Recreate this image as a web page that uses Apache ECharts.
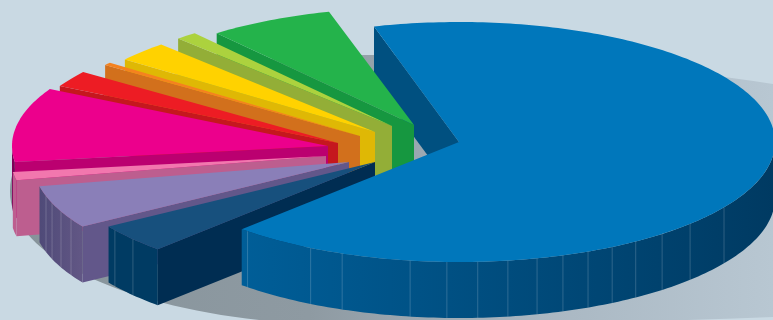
<!DOCTYPE html>
<html>
<head>
<meta charset="utf-8">
<script src="https://cdn.jsdelivr.net/npm/echarts@6/dist/echarts.min.js"></script>
<style>html,body{margin:0;padding:0;background:#c9d9e3}#chart{width:773px;height:320px}</style>
</head>
<body>
<div id="chart"></div>
<script>
// Shares of the whole, clockwise from the large blue sector.
const sliceNames = ['Blue', 'Navy', 'Purple', 'Pink', 'Magenta', 'Red', 'Orange', 'Yellow', 'Lime', 'Green'];
const sliceShares = [66.4, 3.9, 5.8, 1.1, 10.0, 2.2, 0.4, 2.7, 1.1, 6.4];

// Exploded apex of each sector on the canvas, and its vertical reach.
const apexX = [459, 375, 349, 326, 328, 338, 360, 375, 392, 414];
const apexY = [142, 162, 162, 156, 146, 143, 136, 132, 126, 125];
const sliceReachY = [1, 1, 1, 1, 1, 1, 1, 0.99, 0.99, 0.98];

// Colours: top face, radial wall, rim wall left end, rim wall right end.
const topColors = ['#0077bb', '#17507d', '#8a7fb8', '#f277ae', '#ec008c', '#ed1c24', '#f5821f', '#ffd200', '#acd23e', '#24b34b'];
const wallColors = ['#005080', '#002d52', '#62578a', '#bd5e8f', '#bb0070', '#c5171e', '#d2701c', '#dfb805', '#93ae37', '#169740'];
const rimLeftColors = ['#005e98', '#003b63', '#4f4a78', '#bd5e8f', '#7f0058', '#c5171e', '#d2701c', '#dfb805', '#93ae37', '#169740'];
const rimRightColors = ['#003a62', '#003b63', '#625785', '#bd5e8f', '#7f0058', '#c5171e', '#d2701c', '#dfb805', '#93ae37', '#169740'];

// Seams of the faceted rim, as clockwise angles in degrees.
const rimSeams = [
  [222, 208, 201.7, 188.9, 182.2, 176.6, 171.1, 165.7, 160.8, 155.9, 151, 146, 140, 133, 123],
  [235.4, 230],
  [253.5, 250, 245.7, 241.6],
  [], [], [], [], [], [], []
];

// Paint order, back to front.
const paintOrder = [9, 8, 7, 6, 5, 4, 3, 2, 1, 0];

const START_ANGLE = 344.4;
const RX = 316;
const RY = 120;
const DEPTH = 56;

const total = sliceShares.reduce((a, b) => a + b, 0);
const startAngles = [];
const endAngles = [];
sliceShares.reduce((acc, share, i) => {
  const sweep = share / total * 360;
  const s = (START_ANGLE + acc) % 360;
  startAngles[i] = s >= 270 ? s - 360 : s;
  endAngles[i] = startAngles[i] + sweep;
  return acc + sweep;
}, 0);

function rimPoint(i, deg, drop) {
  const a = deg * Math.PI / 180;
  return [apexX[i] + RX * Math.sin(a), apexY[i] - sliceReachY[i] * RY * Math.cos(a) + (drop || 0)];
}

function arc(i, from, to, drop) {
  const pts = [];
  const steps = Math.max(2, Math.ceil(Math.abs(to - from)));
  for (let k = 0; k <= steps; k++) pts.push(rimPoint(i, from + (to - from) * k / steps, drop));
  return pts;
}

function horizontalGradient(left, right) {
  return { type: 'linear', x: 0, y: 0, x2: 1, y2: 0, colorStops: [{ offset: 0, color: left }, { offset: 1, color: right }] };
}

function quarter(cx, cy, rx, ry, a0, a1) {
  const pts = [];
  for (let k = 0; k <= 40; k++) {
    const a = (a0 + (a1 - a0) * k / 40) * Math.PI / 180;
    pts.push([cx + rx * Math.cos(a), cy + ry * Math.sin(a)]);
  }
  return pts;
}

// Soft cast shadow under the pie plus the blue sector's far radial wall.
function renderBackdrop() {
  const cx = 352, cy = 190;
  const outline = [].concat(
    quarter(cx, cy, 680, 135, -90, 0),
    quarter(cx, cy, 1238, 135, 0, 90),
    quarter(cx, cy + 2, 342, 133, 90, 180),
    quarter(cx, cy, 342, 135, 180, 270)
  );
  const shadow = {
    type: 'polygon',
    shape: { points: outline },
    style: {
      fill: {
        type: 'linear', x: 0, y: 0, x2: 773, y2: 0, global: true,
        colorStops: [
          { offset: 0, color: '#86939a' },
          { offset: 0.4, color: '#8e9aa2' },
          { offset: 0.7, color: '#a9b7c2' },
          { offset: 1, color: '#b8c7d2' }
        ]
      }
    }
  };
  const outer = rimPoint(0, START_ANGLE);
  const wall = {
    type: 'polygon',
    shape: { points: [outer, [apexX[0], apexY[0]], [apexX[0], apexY[0] + DEPTH], [outer[0], outer[1] + DEPTH]] },
    style: { fill: wallColors[0] }
  };
  return { type: 'group', children: [shadow, wall] };
}

function renderSlice(params, api) {
  const i = api.value(0);
  const start = startAngles[i];
  const end = endAngles[i];
  const children = [];
  const apex = [apexX[i], apexY[i]];

  // Radial wall along the near edge; the blue sector keeps its wall at the back.
  if (i !== 0) {
    const p = rimPoint(i, start);
    children.push({
      type: 'polygon',
      shape: { points: [p, apex, [apex[0], apex[1] + DEPTH], [p[0], p[1] + DEPTH]] },
      style: { fill: wallColors[i] }
    });
  }

  // Rim wall over the part of the arc that faces the viewer.
  const from = Math.max(start, 90);
  const to = Math.min(end, 270);
  if (to > from) {
    const upper = arc(i, from, to);
    const lower = arc(i, to, from, DEPTH);
    children.push({
      type: 'polygon',
      shape: { points: upper.concat(lower) },
      style: { fill: horizontalGradient(rimLeftColors[i], rimRightColors[i]) }
    });
    rimSeams[i].forEach(deg => {
      const a = rimPoint(i, deg);
      children.push({
        type: 'line',
        shape: { x1: a[0], y1: a[1], x2: a[0], y2: a[1] + DEPTH },
        style: { stroke: 'rgba(255,255,255,0.18)', lineWidth: 1 }
      });
    });
  }

  // Top face.
  children.push({
    type: 'polygon',
    shape: { points: [apex].concat(arc(i, start, end)) },
    style: { fill: topColors[i] }
  });
  return { type: 'group', children };
}

const chart = echarts.init(document.getElementById('chart'), null, { renderer: 'canvas' });
chart.setOption({
  backgroundColor: '#c9d9e3',
  animation: false,
  series: [
    {
      type: 'custom',
      coordinateSystem: 'none',
      silent: true,
      z: 1,
      data: [[0]],
      renderItem: renderBackdrop
    },
    {
      type: 'custom',
      coordinateSystem: 'none',
      silent: true,
      z: 2,
      data: paintOrder.map(i => ({ name: sliceNames[i], value: [i, sliceShares[i]] })),
      renderItem: renderSlice
    }
  ]
});
</script>
</body>
</html>
